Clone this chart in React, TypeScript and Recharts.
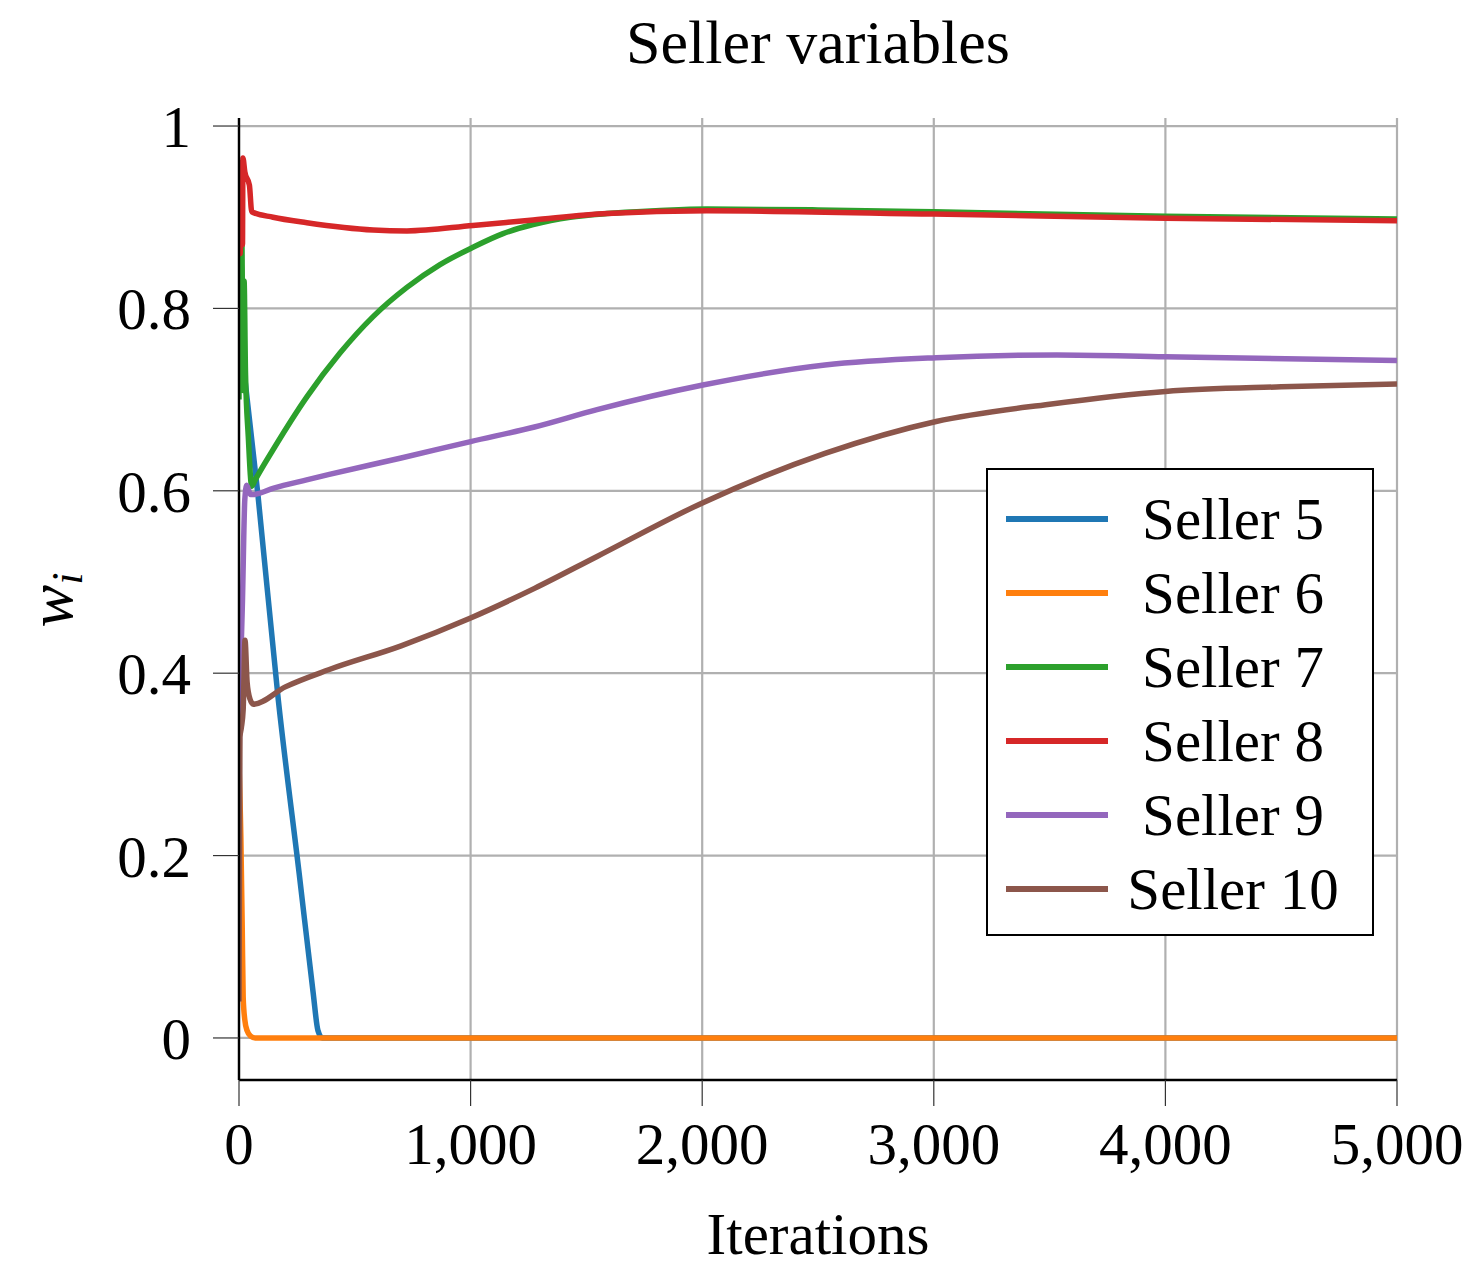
import { LineChart, Line, XAxis, YAxis, CartesianGrid, Legend } from 'recharts';

// iterations / values, one pair of arrays per seller
const seller5X = [0, 82, 170, 260, 320, 341, 360, 500, 1000, 5000];
const seller5Y = [0.78, 0.595, 0.37, 0.18, 0.05, 0.008, 0, 0, 0, 0];

const seller6X = [0, 8, 14, 18, 25, 35, 50, 70, 500, 5000];
const seller6Y = [0.3, 0.22, 0.12, 0.045, 0.02, 0.008, 0.002, 0, 0, 0];

const seller7X = [0, 4, 8, 12, 18, 22, 28, 40, 55, 70, 147, 293, 436, 579, 725, 868, 1010, 1140, 1270, 1430, 1589, 1800, 2020, 2500, 3000, 4000, 5000];
const seller7Y = [0.7, 0.89, 0.72, 0.88, 0.71, 0.83, 0.73, 0.66, 0.605, 0.612, 0.645, 0.703, 0.751, 0.791, 0.823, 0.848, 0.867, 0.882, 0.892, 0.9, 0.904, 0.907, 0.909, 0.908, 0.906, 0.901, 0.898];

const seller8X = [0, 5, 10, 15, 17, 25, 45, 55, 147, 293, 579, 725, 1010, 1270, 1589, 2020, 3000, 4000, 5000];
const seller8Y = [0.95, 0.86, 0.96, 0.87, 0.965, 0.95, 0.935, 0.906, 0.9, 0.894, 0.886, 0.885, 0.891, 0.897, 0.904, 0.907, 0.9035, 0.899, 0.896];

const seller9X = [0, 5, 15, 25, 33, 50, 62, 150, 292, 390, 700, 1000, 1276, 1546, 2003, 2530, 3010, 3532, 4000, 5000];
const seller9Y = [0.3, 0.38, 0.48, 0.59, 0.606, 0.596, 0.596, 0.603, 0.612, 0.618, 0.636, 0.654, 0.67, 0.689, 0.716, 0.738, 0.746, 0.749, 0.747, 0.743];

const seller10X = [0, 4, 10, 18, 26, 35, 47, 62, 200, 390, 700, 1000, 1276, 1546, 2003, 2530, 3010, 3500, 4000, 4500, 5000];
const seller10Y = [0.04, 0.33, 0.34, 0.36, 0.436, 0.39, 0.372, 0.366, 0.385, 0.404, 0.43, 0.4605, 0.493, 0.528, 0.587, 0.641, 0.676, 0.695, 0.709, 0.714, 0.717];

const xTicks = [0, 1000, 2000, 3000, 4000, 5000];
const yTicks = [0, 0.2, 0.4, 0.6, 0.8, 1];

const FONT = '"Liberation Serif", "Times New Roman", serif';
const FS = 59;

const toPoints = (xs: number[], ys: number[]) => xs.map((x, i) => ({ x, y: ys[i] }));

const SERIES = [
  { name: 'Seller 5', color: '#1f77b4', data: toPoints(seller5X, seller5Y) },
  { name: 'Seller 6', color: '#ff7f0e', data: toPoints(seller6X, seller6Y) },
  { name: 'Seller 7', color: '#2ca02c', data: toPoints(seller7X, seller7Y) },
  { name: 'Seller 8', color: '#d62728', data: toPoints(seller8X, seller8Y) },
  { name: 'Seller 9', color: '#9467bd', data: toPoints(seller9X, seller9Y) },
  { name: 'Seller 10', color: '#8c564b', data: toPoints(seller10X, seller10Y) },
];

const Y_DOMAIN = [-0.0461, 1.0088];

function LegendBox() {
  return (
    <div style={{ width: 388, height: 468, boxSizing: 'border-box', border: '2.4px solid #000', background: '#fff', paddingTop: 12 }}>
      {SERIES.map((s) => (
        <div key={s.name} style={{ display: 'flex', alignItems: 'center', height: 74 }}>
          <span style={{ display: 'inline-block', width: 102, height: 5.5, marginLeft: 18, background: s.color }} />
          <span style={{ flex: 1, textAlign: 'center', fontFamily: FONT, fontSize: FS, lineHeight: '74px', paddingRight: 14 }}>{s.name}</span>
        </div>
      ))}
    </div>
  );
}

function XLabel() {
  return (
    <text x={818} y={1254} textAnchor="middle" fontFamily={FONT} fontSize={FS} fill="#000">
      Iterations
    </text>
  );
}

function YLabel() {
  return (
    <text x={72} y={600} transform="rotate(-90 72 600)" fontFamily={FONT} fontSize={64} fill="#000" textAnchor="middle">
      <tspan fontStyle="italic">w</tspan>
      <tspan fontStyle="italic" fontSize={44} dy={10}>i</tspan>
    </text>
  );
}

export default function App() {
  return (
    <div style={{ position: 'absolute', left: 0, top: 0, width: 1476, height: 1266, background: '#fff' }}>
      <div style={{ position: 'absolute', left: 0, top: 12, width: 1636, textAlign: 'center', fontFamily: FONT, fontSize: 62, lineHeight: '60px' }}>
        Seller variables
      </div>
      <LineChart width={1476} height={1266} margin={{ top: 118, right: 79, bottom: 86, left: 119 }}>
        <CartesianGrid stroke="#b0b0b0" strokeWidth={2.2} horizontalValues={yTicks} verticalValues={xTicks} />
        <XAxis
          dataKey="x"
          type="number"
          domain={[0, 5000]}
          ticks={xTicks}
          allowDataOverflow
          height={100}
          tickSize={26}
          tickMargin={16}
          tickFormatter={(v: number) => v.toLocaleString('en-US')}
          tick={{ fontFamily: FONT, fontSize: FS, fill: '#000' }}
          tickLine={{ stroke: '#333', strokeWidth: 1.2 }}
          axisLine={{ stroke: '#000', strokeWidth: 2.4 }}
          label={<XLabel />}
        />
        <XAxis xAxisId="top" orientation="top" type="number" domain={[0, 5000]} height={0} tick={false} tickLine={false} axisLine={{ stroke: '#000', strokeWidth: 2.4 }} />
        <YAxis
          type="number"
          domain={Y_DOMAIN}
          ticks={yTicks}
          allowDataOverflow
          width={120}
          tickSize={26}
          tickMargin={22}
          tick={{ fontFamily: FONT, fontSize: FS, fill: '#000' }}
          tickLine={{ stroke: '#333', strokeWidth: 1.2 }}
          axisLine={{ stroke: '#000', strokeWidth: 2.4 }}
          label={<YLabel />}
        />
        <YAxis yAxisId="right" orientation="right" type="number" domain={Y_DOMAIN} width={0} tick={false} tickLine={false} axisLine={{ stroke: '#000', strokeWidth: 2.4 }} />
        {SERIES.map((s) => (
          <Line
            key={s.name}
            data={s.data}
            dataKey="y"
            name={s.name}
            type="monotone"
            stroke={s.color}
            strokeWidth={5.5}
            dot={false}
            activeDot={false}
            isAnimationActive={false}
          />
        ))}
        <Legend
          layout="horizontal"
          verticalAlign="middle"
          content={<LegendBox />}
          wrapperStyle={{ left: 986, top: 468, width: 388, height: 468 }}
        />
      </LineChart>
    </div>
  );
}
